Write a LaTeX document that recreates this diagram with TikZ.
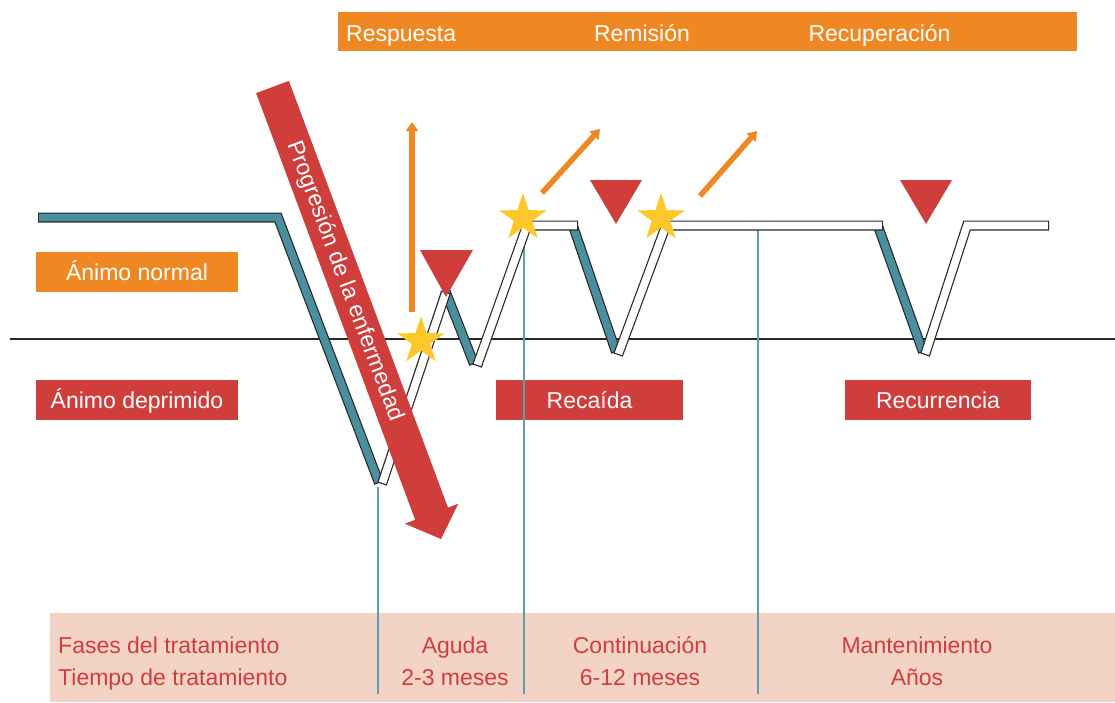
\documentclass[tikz,border=0pt]{standalone}
\usepackage{fontspec}
\setmainfont{Liberation Sans}
\usetikzlibrary{shapes.geometric,arrows.meta}
\definecolor{cOrange}{RGB}{239,136,35}
\definecolor{cRed}{RGB}{208,62,60}
\definecolor{cTeal}{RGB}{74,143,158}
\definecolor{cPink}{RGB}{244,211,199}
\definecolor{cStar}{RGB}{255,200,42}
\definecolor{cThin}{RGB}{95,160,175}
\definecolor{cLine}{RGB}{40,40,40}
\begin{document}
\begin{tikzpicture}[x=1pt,y=-1pt,
  fnt/.style={font=\fontsize{23}{27}\selectfont, inner sep=0pt},
  wtxt/.style={fnt, text=white, anchor=base},
  rtxt/.style={fnt, text=cRed, anchor=base},
  lblbox/.style={inner sep=0pt, minimum width=202pt, minimum height=40pt, anchor=north west},
  bandout/.style={draw=cLine, line width=10pt},
  tealin/.style={draw=cTeal, line width=7.6pt, shorten <=1.2pt, shorten >=1.2pt},
  whitein/.style={draw=white, line width=7.6pt, shorten <=1.2pt, shorten >=1.2pt},
  thin/.style={draw=cThin, line width=1.2pt},
  downtri/.style={fill=cRed},
  starnode/.style={star, star points=5, star point ratio=2.6, fill=cStar, minimum size=50pt, inner sep=0pt},
  oarrow/.style={draw=cOrange, line width=5.5pt, -{Triangle[width=12pt,length=9pt]}}
]
\useasboundingbox (0,0) rectangle (1115,702);

% bands and boxes
\node[fill=cPink, inner sep=0pt, minimum width=1065pt, minimum height=89pt, anchor=north west] (phases) at (50,613) {};
\node[fill=cOrange, inner sep=0pt, minimum width=739pt, minimum height=39pt, anchor=north west] (states) at (338,12) {};
\node[wtxt, anchor=base west] (resp) at (346,41.5) {Respuesta};
\node[wtxt] (remi) at (642,41.5) {Remisión};
\node[wtxt] (recu) at (879.5,41.5) {Recuperación};

\node[lblbox, fill=cOrange] (normal) at (36,252) {};
\node[wtxt] (normalt) at (137,280.5) {Ánimo normal};
\node[lblbox, fill=cRed] (depr) at (36,380) {};
\node[wtxt] (deprt) at (137,408) {Ánimo deprimido};
\node[lblbox, fill=cRed, minimum width=187pt] (recai) at (496,380) {};
\node[wtxt] (recait) at (589.5,408) {Recaída};
\node[lblbox, fill=cRed, minimum width=186pt] (recur) at (845,380) {};
\node[wtxt] (recurt) at (938,408) {Recurrencia};

% phase texts
\node[rtxt, anchor=base west] (fases) at (58,653) {Fases del tratamiento};
\node[rtxt, anchor=base west] (tiempo) at (58,685) {Tiempo de tratamiento};
\node[rtxt] (aguda) at (455,653) {Aguda};
\node[rtxt] (aguda2) at (455,685) {2-3 meses};
\node[rtxt] (cont) at (640,653) {Continuación};
\node[rtxt] (cont2) at (640,685) {6-12 meses};
\node[rtxt] (mant) at (917,653) {Mantenimiento};
\node[rtxt] (mant2) at (917,685) {Años};

% baseline
\coordinate (bl) at (10,339);
\coordinate (br) at (1115,339);
\draw[draw=cLine, line width=2pt] (bl) -- (br);

% thin phase separators
\coordinate (v1t) at (378,487); \coordinate (v1b) at (378,694);
\coordinate (v2t) at (524,228); \coordinate (v2b) at (524,694);
\coordinate (v3t) at (758,228); \coordinate (v3b) at (758,694);
\draw[thin] (v1t) -- (v1b);
\draw[thin] (v2t) -- (v2b);
\draw[thin] (v3t) -- (v3b);

% mood course: depressive (teal) segments
\def\tealband#1{\draw[bandout] #1; \draw[tealin] #1;}
\def\whiteband#1{\draw[bandout] #1; \draw[whitein] #1;}
\tealband{(38,217.5) -- (278,217.5) -- (379,483)}
\tealband{(445,290) -- (474,364)}
\tealband{(573,226) -- (616,352)}
\tealband{(878,226) -- (923,352)}
% treatment (white) segments
\whiteband{(382,484) -- (446,292)}
\whiteband{(477,366) -- (527,225.5) -- (578,225.5)}
\whiteband{(618,355) -- (666,225.5) -- (883,225.5)}
\whiteband{(925,355) -- (967,225.5) -- (1049,225.5)}

% red triangles
\fill[downtri] (420,250) -- (473,250) -- (446,297) -- cycle;
\fill[downtri] (590,180) -- (642,180) -- (616,224) -- cycle;
\fill[downtri] (900,180) -- (952,180) -- (926,224) -- cycle;

% stars
\node[starnode] (st1) at (421,341) {};
\node[starnode] (st2) at (523,218) {};
\node[starnode] (st3) at (661,218) {};

% orange arrows
\coordinate (o1a) at (412,312); \coordinate (o1b) at (412,122);
\coordinate (o2a) at (542,193); \coordinate (o2b) at (600,129);
\coordinate (o3a) at (700,196); \coordinate (o3b) at (757,131);
\draw[oarrow] (o1a) -- (o1b);
\draw[oarrow] (o2a) -- (o2b);
\draw[oarrow] (o3a) -- (o3b);

% disease progression arrow
\fill[cRed] (256.1,93.1) -- (288.9,80.9) -- (448.0,507.6) -- (458.3,503.7) -- (441,539) -- (404.9,523.7) -- (415.2,519.8) -- cycle;
\node[fnt, text=white, rotate=-69.56] (prog) at (344.9,281.1) {Progresión de la enfermedad};
\end{tikzpicture}
\end{document}
